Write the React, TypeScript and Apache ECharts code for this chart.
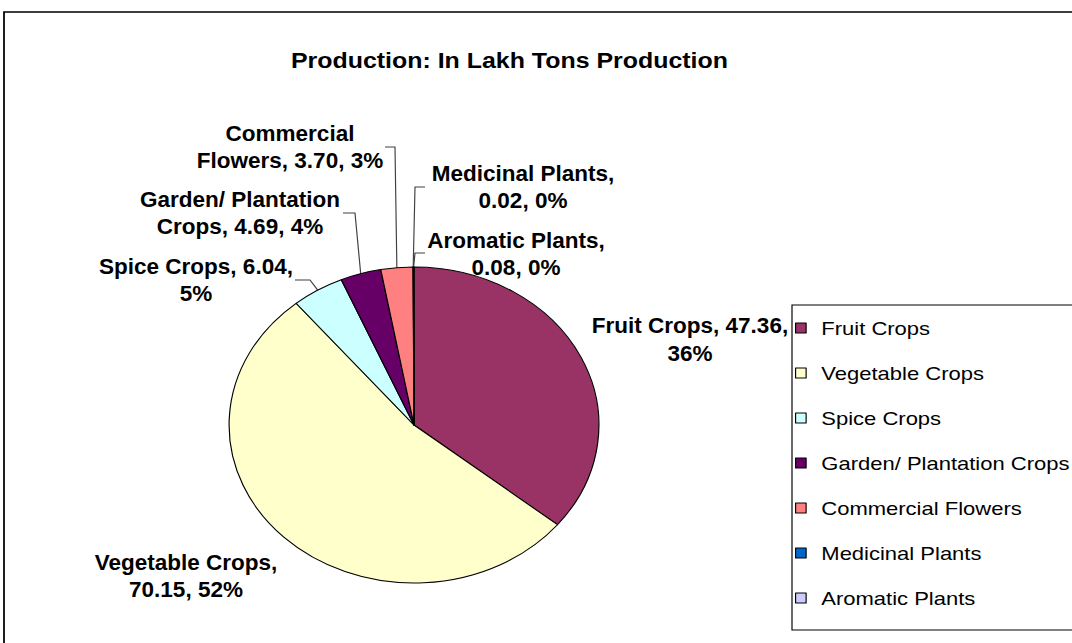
import { useEffect, useRef } from "react";
import * as echarts from "echarts";

// ---- data ----
const categories = [
  "Fruit Crops",
  "Vegetable Crops",
  "Spice Crops",
  "Garden/ Plantation Crops",
  "Commercial Flowers",
  "Medicinal Plants",
  "Aromatic Plants",
];
const values = [47.36, 70.15, 6.04, 4.69, 3.7, 0.02, 0.08];
const percentLabels = ["36%", "52%", "5%", "4%", "3%", "0%", "0%"];
const titleText = "Production: In Lakh Tons Production";

// ---- styles / layout (kept apart from data) ----
const colors = ["#993366", "#FFFFCC", "#CCFFFF", "#660066", "#FF8080", "#0066CC", "#CCCCFF"];
const labelBreakAfter = [3, 2, 3, 2, 1, 2, 2]; // words on the first label line
const hasLeader = [false, false, true, true, true, true, true];
// label centres in page pixels
const labelCenters: number[][] = [
  [690, 339.5],
  [186, 576],
  [196, 280],
  [240, 213],
  [290, 147],
  [523, 187],
  [516, 254],
];
// leader: [label-end x, elbow x, y] in page pixels
const leaders: (number[] | null)[] = [
  null,
  null,
  [295, 310, 280],
  [343, 355, 213],
  [385, 395, 147],
  [425, 415, 187],
  [425, 415, 253],
];

const PAGE_W = 1072;
const PAGE_H = 643;
const INNER_W = 916;
const S = PAGE_W / INNER_W; // horizontal stretch of the original picture's pie
const sx = (x: number) => x / S;
const FONT = "'Liberation Sans', Arial, sans-serif";
const PIE_CX = 414;
const PIE_CY = 425;

function labelText(i: number) {
  const words = `${categories[i]}, ${values[i].toFixed(2)}, ${percentLabels[i]}`.split(" ");
  const n = labelBreakAfter[i];
  return words.slice(0, n).join(" ") + "\n" + words.slice(n).join(" ");
}

const pieData = () =>
  categories.map((name, i) => ({
    name,
    value: values[i],
    itemStyle: { color: colors[i] },
  }));

export default function App() {
  const refA = useRef<HTMLDivElement>(null);
  const refB = useRef<HTMLDivElement>(null);
  useEffect(() => {
    if (!refA.current || !refB.current) return;
    // Layer A: stretched horizontally -> elliptical pie, title, legend, leader lines
    const a = echarts.init(refA.current, undefined, { renderer: "svg" });
    a.setOption({
      animation: false,
      backgroundColor: "#fff",
      title: {
        text: titleText,
        left: sx(291),
        top: 50,
        padding: 0,
        textStyle: { fontFamily: FONT, fontSize: 21.3, fontWeight: "bold", color: "#000" },
      },
      legend: {
        orient: "vertical",
        left: sx(795),
        top: 318,
        padding: 0,
        itemWidth: 9,
        itemHeight: 10,
        itemGap: 25,
        icon: "rect",
        selectedMode: false,
        data: categories,
        itemStyle: { borderColor: "#000", borderWidth: 1 },
        textStyle: {
          fontFamily: FONT,
          fontSize: 18.8,
          color: "#000",
          lineHeight: 20,
          padding: [0, 0, 0, 8],
        },
      },
      graphic: [
        {
          type: "rect",
          silent: true,
          z: -10,
          shape: { x: sx(4), y: 12, width: 2000, height: 2000 },
          style: { fill: "none", stroke: "#000", lineWidth: 1.5 },
        },
        {
          type: "rect",
          silent: true,
          shape: { x: sx(792), y: 305, width: 500, height: 325 },
          style: { fill: "none", stroke: "#000", lineWidth: 1 },
        },
      ],
      series: [
        {
          type: "pie",
          center: [sx(PIE_CX), PIE_CY],
          radius: 158,
          startAngle: 90,
          clockwise: true,
          avoidLabelOverlap: false,
          data: categories.map((name, i) => ({
            name,
            value: values[i],
            itemStyle: { color: colors[i] },
            label: { show: hasLeader[i] },
            labelLine: { show: hasLeader[i] },
          })),
          itemStyle: { borderColor: "#000", borderWidth: 1 },
          emphasis: { disabled: true },
          label: { show: true, formatter: " ", fontSize: 2 },
          labelLine: { lineStyle: { color: "#404040", width: 1 } },
          labelLayout: (p: any) => {
            const i = p.dataIndex;
            const ld = leaders[i];
            if (!ld) return {};
            const res: any = { x: sx(ld[0]), y: ld[2] };
            if (p.labelLinePoints) {
              const edge = p.labelLinePoints[0];
              res.labelLinePoints = [edge, [sx(ld[1]), ld[2]], [sx(ld[0]), ld[2]]];
            }
            return res;
          },
        },
      ],
    });

    // Layer B: unstretched data labels
    const b = echarts.init(refB.current, undefined, { renderer: "svg" });
    b.setOption({
      animation: false,
      series: [
        {
          type: "pie",
          center: [PIE_CX, PIE_CY],
          radius: 0,
          startAngle: 90,
          clockwise: true,
          avoidLabelOverlap: false,
          silent: true,
          data: pieData(),
          emphasis: { disabled: true },
          label: {
            show: true,
            formatter: (p: any) => labelText(p.dataIndex),
            fontFamily: FONT,
            fontSize: 22.5,
            fontWeight: "bold",
            color: "#000",
            lineHeight: 27.5,
            align: "center",
          },
          labelLine: { show: false },
          labelLayout: (p: any) => {
            const [cx, cy] = labelCenters[p.dataIndex];
            return { x: cx, y: cy, align: "center", verticalAlign: "middle" };
          },
        },
      ],
    });
    return () => {
      a.dispose();
      b.dispose();
    };
  }, []);

  return (
    <>
      <div
        ref={refA}
        style={{
          position: "absolute",
          left: 0,
          top: 0,
          width: INNER_W,
          height: PAGE_H,
          transform: `scaleX(${S})`,
          transformOrigin: "0 0",
        }}
      />
      <div
        ref={refB}
        style={{
          position: "absolute",
          left: 0,
          top: 0,
          width: PAGE_W,
          height: PAGE_H,
          pointerEvents: "none",
        }}
      />
    </>
  );
}
